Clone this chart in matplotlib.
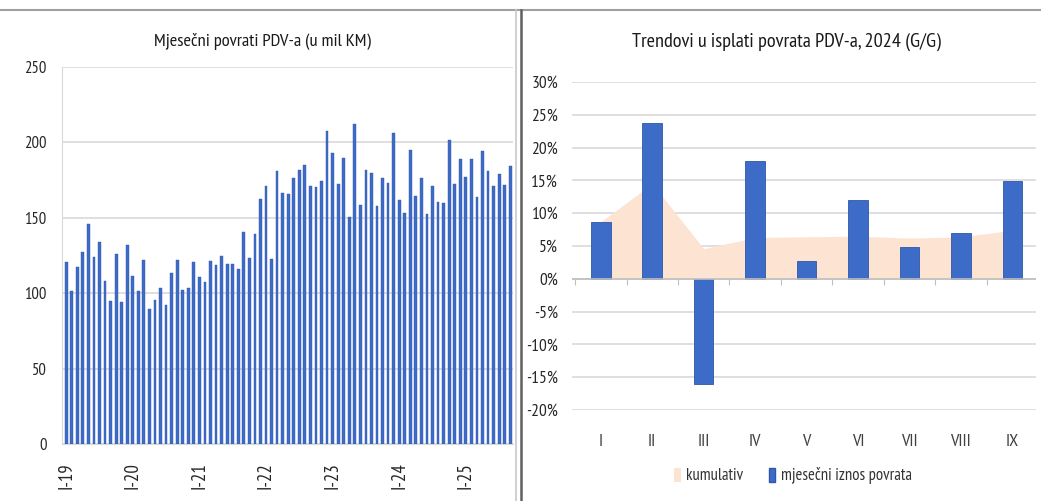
import matplotlib
matplotlib.use("Agg")
import matplotlib.pyplot as plt
from matplotlib.lines import Line2D
from matplotlib.patches import Patch
import numpy as np
import warnings
warnings.filterwarnings("ignore")

plt.rcParams['font.family'] = ['PT Sans Narrow', 'Roboto Condensed', 'Archivo Narrow',
                               'Fira Sans Condensed', 'DejaVu Sans']

# ---------------- data ----------------
# Monthly VAT refunds, Jan 2019 - Sep 2025 (million KM)
refunds = [
    120.7, 101.5, 117.4, 127.6, 146.1, 124.3, 134.1, 108.0, 95.0, 125.7, 94.1, 132.2,   # 2019
    111.3, 101.5, 121.7, 89.8, 95.2, 103.3, 92.4, 113.5, 122.2, 102.2, 103.7, 120.7,    # 2020
    110.9, 107.6, 121.3, 118.9, 125.0, 119.6, 119.6, 115.9, 140.7, 123.5, 139.1, 162.4, # 2021
    171.1, 122.8, 180.9, 166.7, 165.7, 176.1, 181.5, 184.8, 171.3, 170.2, 174.6, 207.6, # 2022
    192.8, 172.2, 189.8, 150.7, 212.4, 158.7, 181.5, 180.0, 157.6, 176.7, 173.3, 206.1, # 2023
    162.0, 153.3, 195.0, 164.6, 176.5, 152.6, 171.1, 160.2, 159.8, 201.7, 172.2, 189.1, # 2024
    177.2, 189.1, 164.1, 194.1, 181.1, 171.1, 179.3, 171.7, 184.3,                      # 2025
]
year_ticks = ["I-19", "I-20", "I-21", "I-22", "I-23", "I-24", "I-25"]
left_yticks = [0, 50, 100, 150, 200, 250]

months = ["I", "II", "III", "IV", "V", "VI", "VII", "VIII", "IX"]
monthly_yoy = [8.7, 23.7, -16.0, 17.95, 2.7, 11.95, 4.8, 7.0, 14.9]   # %
cumulative_yoy = [8.7, 14.5, 4.6, 6.3, 6.4, 6.5, 6.2, 6.4, 7.4]       # %
right_yticks = [-20, -15, -10, -5, 0, 5, 10, 15, 20, 25, 30]

title_left = "Mjesečni povrati PDV-a (u mil KM)"
title_right = "Trendovi u isplati povrata PDV-a, 2024 (G/G)"
legend_labels = ["kumulativ", "mjesečni iznos povrata"]

# ---------------- figure ----------------
W, H = 1041, 501
fig = plt.figure(figsize=(W / 100, H / 100), dpi=100)
fig.patch.set_facecolor("white")

def fx(px):
    return px / W

def fy(py):
    return 1 - py / H

GRID = "#d9d9d9"
TXT = "#262626"
BAR = "#3d6cc8"
BAR_EDGE = "#2f56a8"
AREA = "#fde4d2"

# ---------- left chart ----------
axL = fig.add_axes([fx(62), fy(444), fx(513 - 62), fy(67) - fy(444)])
x = np.arange(len(refunds))
axL.bar(x, refunds, width=0.5, color=BAR, edgecolor=BAR_EDGE, linewidth=0.3, zorder=3)
axL.set_xlim(-0.75, len(refunds) - 0.5)
axL.set_ylim(0, 250)
axL.set_yticks(left_yticks)
axL.set_yticklabels([str(v) for v in left_yticks], fontsize=12, color=TXT)
axL.yaxis.grid(True, color=GRID, linewidth=1.2, zorder=0)
axL.tick_params(axis="y", length=0, pad=11)
pos = [i * 12 for i in range(len(year_ticks))]
axL.set_xticks(pos)
axL.set_xticklabels(year_ticks, rotation=90, fontsize=13.5, color=TXT)
axL.tick_params(axis="x", length=0, pad=13)
for s in ["top", "right"]:
    axL.spines[s].set_visible(False)
axL.spines["left"].set_color(GRID)
axL.spines["bottom"].set_color(GRID)
axL.set_axisbelow(True)
fig.text(fx(262), fy(42), title_left, ha="center", va="center", fontsize=13.3, color="#1a1a1a")

# ---------- right chart ----------
axR = fig.add_axes([fx(572), fy(410), fx(1036 - 572), fy(82) - fy(410)])
xr = np.arange(len(months))
axR.fill_between(xr, 0, cumulative_yoy, color=AREA, linewidth=0, zorder=2)
axR.bar(xr, monthly_yoy, width=0.38, color=BAR, edgecolor=BAR_EDGE, linewidth=0.6, zorder=3)
axR.set_xlim(-0.56, 8.46)
axR.set_ylim(-20, 30)
axR.set_yticks(right_yticks)
axR.set_yticklabels([f"{v}%" for v in right_yticks], fontsize=12.5, color=TXT)
axR.yaxis.grid(True, color=GRID, linewidth=1.2, zorder=0)
axR.tick_params(axis="y", length=0, pad=10)
axR.set_xticks(xr)
axR.set_xticklabels(months, fontsize=13, color="#404040")
axR.tick_params(axis="x", length=0, pad=17)
for s in ["top", "right", "bottom", "left"]:
    axR.spines[s].set_visible(False)
axR.axhline(0, color="#bfbfbf", linewidth=1.2, zorder=4)
sec = axR.secondary_xaxis(0.4)
sec.set_xticks(np.arange(len(months) + 1) - 0.5)
sec.set_xticklabels([])
sec.tick_params(axis="x", length=4, color="#bfbfbf", direction="out")
sec.spines["bottom"].set_visible(False)
axR.set_axisbelow(True)
fig.text(fx(786), fy(42), title_right, ha="center", va="center", fontsize=14.6, color="#1a1a1a")

handles = [Patch(facecolor=AREA, edgecolor="none"), Patch(facecolor=BAR, edgecolor=BAR_EDGE)]
fig.legend(handles, legend_labels, loc="center", bbox_to_anchor=(fx(793), fy(476)), ncol=2,
           frameon=False, fontsize=12, handlelength=0.4, handleheight=0.9, handletextpad=0.35,
           columnspacing=1.5, labelcolor="#333333")

# ---------- frame lines ----------
fig.add_artist(Line2D([0, 1], [fy(10), fy(10)], color="#a0a0a0", linewidth=1.5))
fig.add_artist(Line2D([fx(516), fx(516)], [fy(10), 0], color="#c8c8c8", linewidth=1.2))
fig.add_artist(Line2D([fx(521), fx(521)], [fy(10), 0], color="#606060", linewidth=1.8))

fig.savefig("out.png", dpi=100, facecolor="white")
